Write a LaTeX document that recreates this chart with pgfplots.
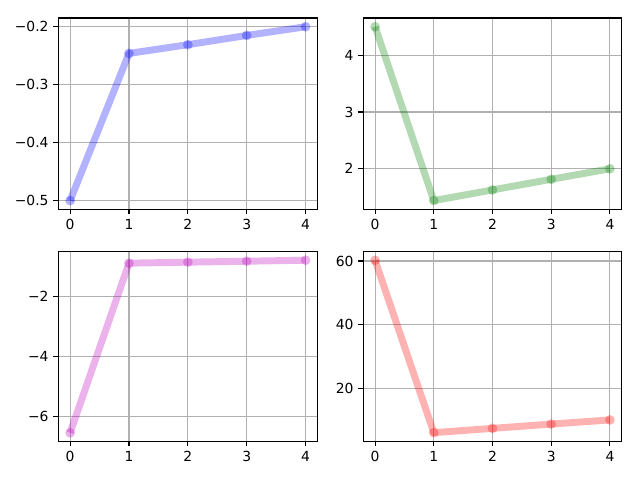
\documentclass[border=0pt]{standalone}
\usepackage{fontspec}
\setmainfont{DejaVu Sans}
\usepackage{pgfplots}
\pgfplotsset{compat=1.18}

\definecolor{mplb}{rgb}{0,0,1}
\definecolor{mplg}{rgb}{0,0.5,0}
\definecolor{mplm}{rgb}{0.75,0,0.75}
\definecolor{mplr}{rgb}{1,0,0}
\definecolor{gridgray}{HTML}{B0B0B0}

\pgfplotsset{
  sub/.style={
    scale only axis, anchor=south west,
    xmin=-0.2, xmax=4.2, xtick={0,1,2,3,4},
    xtick pos=bottom, ytick pos=left,
    grid=major, major grid style={gridgray, line width=0.8pt},
    tick align=outside, major tick length=3.5pt,
    major tick style={black, line width=0.8pt},
    axis line style={line width=0.8pt},
    tick label style={font=\fontsize{10}{12}\selectfont},
    /pgf/number format/assume math mode=true,
  },
  curve/.style={
    draw=#1, draw opacity=0.3, line width=5pt, line join=round,
    mark=*, mark size=3.5pt,
    mark options={line width=0pt, draw opacity=0, fill=#1, fill opacity=0.3},
  },
}

\begin{document}
\begin{tikzpicture}
\path[use as bounding box] (0,0) rectangle (460.8pt,345.6pt);

% top left
\begin{axis}[sub, at={(42.0pt,194.9pt)}, width=186.5pt, height=137.7pt,
  ymin=-0.515, ymax=-0.185,
  ytick={-0.5,-0.4,-0.3,-0.2}, yticklabels={−0.5,−0.4,−0.3,−0.2}]
\addplot[curve=mplb] coordinates {(0,-0.5) (1,-0.246) (2,-0.231) (3,-0.215) (4,-0.2)};
\end{axis}

% top right
\begin{axis}[sub, at={(261.6pt,194.9pt)}, width=186.0pt, height=137.7pt,
  ymin=1.287, ymax=4.653, ytick={2,3,4}]
\addplot[curve=mplg] coordinates {(0,4.5) (1,1.44) (2,1.628) (3,1.815) (4,2.0)};
\end{axis}

% bottom left
\begin{axis}[sub, at={(42.0pt,27.9pt)}, width=186.5pt, height=136.8pt,
  ymin=-6.81, ymax=-0.51,
  ytick={-6,-4,-2}, yticklabels={−6,−4,−2}]
\addplot[curve=mplm] coordinates {(0,-6.53) (1,-0.905) (2,-0.872) (3,-0.84) (4,-0.807)};
\end{axis}

% bottom right
\begin{axis}[sub, at={(261.6pt,27.9pt)}, width=186.0pt, height=136.8pt,
  ymin=3.35, ymax=63.05, ytick={20,40,60}]
\addplot[curve=mplr] coordinates {(0,60.2) (1,6.05) (2,7.4) (3,8.75) (4,10.05)};
\end{axis}
\end{tikzpicture}
\end{document}
